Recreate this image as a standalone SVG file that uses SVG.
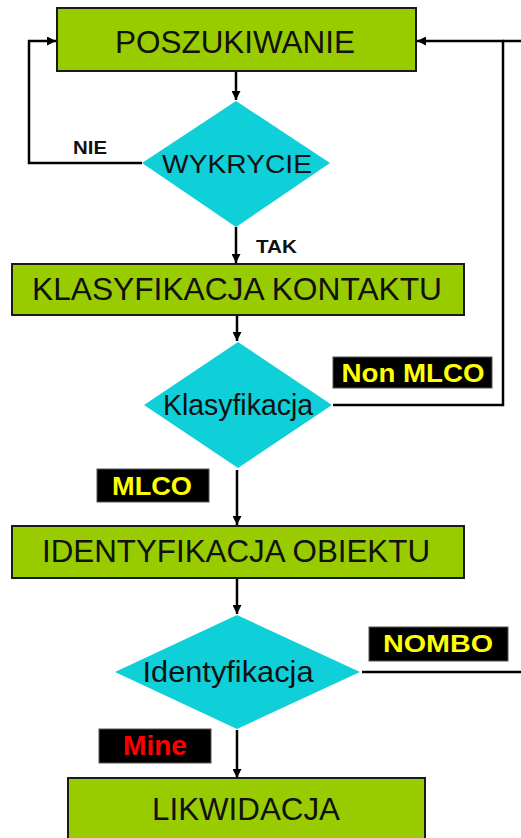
<svg xmlns="http://www.w3.org/2000/svg" width="521" height="838" viewBox="0 0 521 838">
<defs>
<marker id="arr" viewBox="0 0 10 10" refX="10" refY="5" markerWidth="9" markerHeight="9" markerUnits="userSpaceOnUse" orient="auto">
<path d="M0,0 L10,5 L0,10 z" fill="#000"/>
</marker>
</defs>
<style>
.box{fill:#99CC00;stroke:#1a1a1a;stroke-width:2}
.dia{fill:#0FCFD8;stroke:none}
.t{font-family:"Liberation Sans",Arial,sans-serif;fill:#111;text-anchor:middle}
.lbl{font-family:"Liberation Sans",Arial,sans-serif;font-weight:bold;text-anchor:middle}
.tag{fill:#000;stroke:#555;stroke-width:1}
.c{fill:none;stroke:#000;stroke-width:2.5}
</style>
<rect width="521" height="838" fill="#fff"/>
<g id="connectors">
<path class="c" d="M236,71 V100" marker-end="url(#arr)"/>
<path class="c" d="M142,163 H29 V41 H56" marker-end="url(#arr)"/>
<path class="c" d="M236,227 V263" marker-end="url(#arr)"/>
<path class="c" d="M237,315 V341" marker-end="url(#arr)"/>
<path class="c" d="M333,405 H503 V41 H417" marker-end="url(#arr)"/>
<path class="c" d="M503,41 H521"/>
<path class="c" d="M237,470 V525" marker-end="url(#arr)"/>
<path class="c" d="M237,578 V614" marker-end="url(#arr)"/>
<path class="c" d="M362,672 H521"/>
<path class="c" d="M237,730 V778" marker-end="url(#arr)"/>
<text class="lbl" x="90" y="154" font-size="18" textLength="34" lengthAdjust="spacingAndGlyphs" fill="#111">NIE</text>
<text class="lbl" x="276.5" y="253" font-size="19" textLength="41" lengthAdjust="spacingAndGlyphs" fill="#111">TAK</text>
<rect class="tag" x="333" y="357" width="159" height="31"/>
<text class="lbl" x="413" y="382" font-size="26" textLength="143" lengthAdjust="spacingAndGlyphs" fill="#FFFF00">Non MLCO</text>
<rect class="tag" x="97" y="469" width="112" height="33"/>
<text class="lbl" x="152" y="495" font-size="25" textLength="80" lengthAdjust="spacingAndGlyphs" fill="#FFFF00">MLCO</text>
<rect class="tag" x="369" y="627" width="139" height="34"/>
<text class="lbl" x="438" y="652" font-size="24" textLength="110" lengthAdjust="spacingAndGlyphs" fill="#FFFF00">NOMBO</text>
<rect class="tag" x="99" y="729" width="112" height="34"/>
<text class="lbl" x="155" y="755" font-size="27" textLength="64" lengthAdjust="spacingAndGlyphs" fill="#FF0000">Mine</text>
</g>
<g id="poszukiwanie">
<rect class="box" x="57" y="8" width="359" height="63"/>
<text class="t" x="235" y="53" font-size="31" textLength="240" lengthAdjust="spacingAndGlyphs">POSZUKIWANIE</text>
</g>
<g id="wykrycie">
<polygon class="dia" points="236,101 330,163 236,227 142,163"/>
<text class="t" x="237" y="173" font-size="26" textLength="150" lengthAdjust="spacingAndGlyphs">WYKRYCIE</text>
</g>
<g id="klasyfikacja-kontaktu">
<rect class="box" x="12" y="264" width="452" height="51"/>
<text class="t" x="237" y="300" font-size="32" textLength="410" lengthAdjust="spacingAndGlyphs">KLASYFIKACJA KONTAKTU</text>
</g>
<g id="klasyfikacja">
<polygon class="dia" points="238,342 332,405 238,468 144,405"/>
<text class="t" x="238" y="415" font-size="29" textLength="150" lengthAdjust="spacingAndGlyphs">Klasyfikacja</text>
</g>
<g id="identyfikacja-obiektu">
<rect class="box" x="12" y="526" width="452" height="52"/>
<text class="t" x="236" y="562" font-size="32" textLength="388" lengthAdjust="spacingAndGlyphs">IDENTYFIKACJA OBIEKTU</text>
</g>
<g id="identyfikacja">
<polygon class="dia" points="237,615 360,672 237,729 115,672"/>
<text class="t" x="228" y="682" font-size="30" textLength="171" lengthAdjust="spacingAndGlyphs">Identyfikacja</text>
</g>
<g id="likwidacja">
<rect class="box" x="68" y="778" width="357" height="70"/>
<text class="t" x="246" y="820" font-size="31" textLength="188" lengthAdjust="spacingAndGlyphs">LIKWIDACJA</text>
</g>
</svg>
